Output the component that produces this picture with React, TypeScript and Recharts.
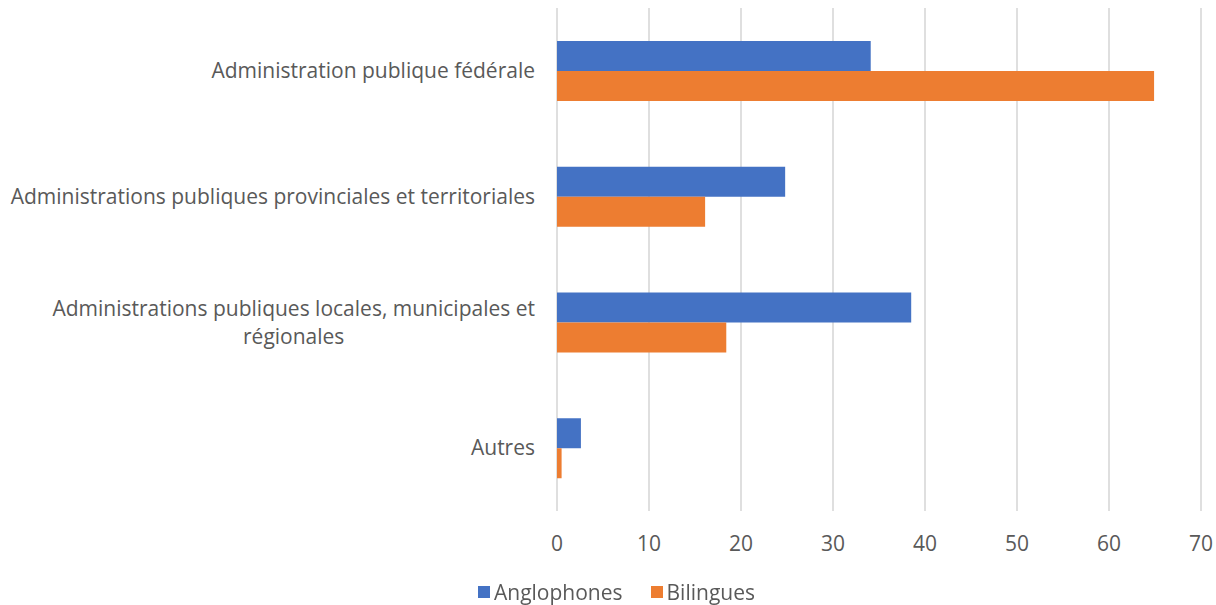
import React from 'react';
import {
  BarChart,
  Bar,
  XAxis,
  YAxis,
  CartesianGrid,
  Legend,
} from 'recharts';

const categories = [
  'Administration publique fédérale',
  'Administrations publiques provinciales et territoriales',
  'Administrations publiques locales, municipales et\nrégionales',
  'Autres',
];
const anglophones = [34.1, 24.8, 38.5, 2.6];
const bilingues = [64.9, 16.1, 18.4, 0.5];
const xTicks = [0, 10, 20, 30, 40, 50, 60, 70];

const seriesConfig = {
  anglophones: { color: '#4472C4', label: 'Anglophones' },
  bilingues: { color: '#ED7D31', label: 'Bilingues' },
};

const FONT = "'Open Sans', sans-serif";
const FONT_SIZE = 21;
const TEXT_COLOR = '#595959';

const data = categories.map((name, i) => ({
  name,
  anglophones: anglophones[i],
  bilingues: bilingues[i],
}));

let measureCtx: CanvasRenderingContext2D | null = null;
const measure = (text: string) => {
  if (!measureCtx) {
    measureCtx = document.createElement('canvas').getContext('2d');
  }
  if (!measureCtx) return text.length * FONT_SIZE * 0.55;
  measureCtx.font = `${FONT_SIZE}px 'Open Sans'`;
  return measureCtx.measureText(text).width;
};

function CategoryTick({ x, y, payload }: any) {
  const lines: string[] = String(payload.value).split('\n');
  const lineHeight = 28;
  if (lines.length === 1) {
    return (
      <text x={x} y={y} dy="0.35em" textAnchor="end" fill={TEXT_COLOR} fontSize={FONT_SIZE} fontFamily={FONT}>
        {lines[0]}
      </text>
    );
  }
  // Excel centres wrapped labels on the widest line
  const widest = Math.max(...lines.map(measure));
  const cx = x - widest / 2;
  return (
    <text x={cx} y={y} textAnchor="middle" fill={TEXT_COLOR} fontSize={FONT_SIZE} fontFamily={FONT}>
      {lines.map((line, i) => (
        <tspan key={i} x={cx} y={y + (i - (lines.length - 1) / 2) * lineHeight} dy="0.35em">
          {line}
        </tspan>
      ))}
    </text>
  );
}

function LegendContent() {
  const items = [seriesConfig.anglophones, seriesConfig.bilingues];
  return (
    <div
      style={{
        display: 'flex',
        justifyContent: 'center',
        alignItems: 'center',
        height: 16,
        marginLeft: 32,
        fontFamily: FONT,
        fontSize: FONT_SIZE,
        color: TEXT_COLOR,
      }}
    >
      {items.map((item, i) => (
        <div key={item.label} style={{ display: 'flex', alignItems: 'center', marginLeft: i ? 28 : 0 }}>
          <span style={{ width: 12, height: 12, background: item.color, marginRight: 4, display: 'inline-block' }} />
          <span style={{ lineHeight: '16px' }}>{item.label}</span>
        </div>
      ))}
    </div>
  );
}

export default function App() {
  // fixed so the chart fills the window without scrollbars
  return (
    <div style={{ position: 'fixed', top: 0, left: 0, background: '#fff' }}>
      <BarChart
        width={1216}
        height={605}
        data={data}
        layout="vertical"
        margin={{ top: 8, right: 15, left: 0, bottom: 28 }}
        barSize={30}
        barGap={0}
      >
        <CartesianGrid horizontal={false} stroke="#d4d4d4" strokeWidth={1.5} />
        <XAxis
          type="number"
          domain={[0, 70]}
          ticks={xTicks}
          axisLine={false}
          tickLine={false}
          tickSize={0}
          tickMargin={25}
          height={50}
          tick={{ fill: TEXT_COLOR, fontSize: FONT_SIZE, fontFamily: FONT }}
        />
        <YAxis
          type="category"
          dataKey="name"
          width={557}
          axisLine={false}
          tickLine={false}
          tickSize={0}
          tickMargin={22}
          tick={<CategoryTick />}
          interval={0}
        />
        <Legend verticalAlign="bottom" content={<LegendContent />} wrapperStyle={{ bottom: 5 }} />
        <Bar
          dataKey="anglophones"
          name={seriesConfig.anglophones.label}
          fill={seriesConfig.anglophones.color}
          isAnimationActive={false}
        />
        <Bar
          dataKey="bilingues"
          name={seriesConfig.bilingues.label}
          fill={seriesConfig.bilingues.color}
          isAnimationActive={false}
        />
      </BarChart>
    </div>
  );
}
